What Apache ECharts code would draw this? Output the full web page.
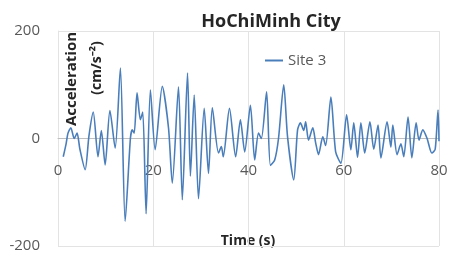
<!DOCTYPE html>
<html>
<head>
<meta charset="utf-8">
<script src="https://cdn.jsdelivr.net/npm/echarts@6/dist/echarts.min.js"></script>
<style>
  html, body { margin: 0; padding: 0; background: #fff; }
  #chart { width: 451px; height: 259px; }
</style>
</head>
<body>
<div id="chart"></div>
<script>
// values (time in s, acceleration in cm/s2)
var time = [1.1, 1.7, 2.1, 2.7, 3.4, 4.0, 4.6, 5.7, 6.5, 7.4, 8.4, 9.1, 9.9, 10.9, 12.0, 13.1, 14.1, 15.2, 15.6, 16.0,
  16.6, 17.3, 17.8, 18.5, 19.4, 20.4, 21.9, 23.2, 24.0, 25.3, 26.1, 27.2, 27.8, 28.6, 29.5, 30.7, 31.6, 32.4, 33.7, 34.3,
  34.7, 36.0, 37.3, 38.3, 39.2, 40.4, 41.3, 42.1, 42.7, 43.8, 44.6, 45.5, 46.3, 47.4, 48.2, 49.5, 50.3, 50.9, 51.6, 52.0,
  52.6, 53.5, 54.1, 54.7, 55.6, 56.2, 57.3, 58.3, 59.4, 60.6, 61.5, 62.1, 62.9, 63.6, 64.4, 65.5, 66.3, 67.2, 67.8, 69.1,
  69.9, 70.3, 71.2, 72.0, 72.6, 73.5, 74.3, 75.2, 75.8, 76.6, 77.5, 78.5, 79.2, 79.8, 80.0];
var site3 = [-34, -10, 10, 20, 0, 10, -20, -58, 5, 49, -34, 15, -49, 52, -18, 131, -154, 0, 16, 10,
  85, 35, 49, -140, 90, -21, 97, 20, -83, 96, -114, 122, -70, 81, -112, 56, -65, 57, -27, -15,
  -34, 56, -34, 35, -25, 62, -40, 10, 0, 87, -50, -40, 0, 100, 3, -77, 16, 29, 15, 31,
  -3, 20, -8, -30, 3, -13, 77, -25, -46, 44, -21, 29, -35, 29, -27, 31, -20, 25, -36, 31,
  -16, 25, -30, -10, -34, 40, -36, 29, -3, 16, 0, -27, -20, 53, -5];
var xTicks = [0, 20, 40, 60, 80];
var yTicks = [-200, 0, 200];

var font = 'Open Sans';
var chart = echarts.init(document.getElementById('chart'));

chart.setOption({
  animation: false,
  textStyle: { fontFamily: font },
  title: {
    text: 'HoChiMinh City',
    left: 266, top: 8, textAlign: 'center',
    textStyle: { fontFamily: font, fontSize: 18, fontWeight: 'bold', color: '#262626' }
  },
  legend: {
    left: 265, top: 53, padding: 0,
    icon: 'rect', itemWidth: 18, itemHeight: 2, itemGap: 3,
    textStyle: { fontFamily: font, fontSize: 15, color: '#595959' },
    data: ['Site 3']
  },
  grid: { left: 58, right: 12, top: 31, bottom: 13, outerBoundsMode: 'none', containLabel: false },
  xAxis: {
    type: 'value',
    min: xTicks[0], max: xTicks[xTicks.length - 1], interval: 20,
    axisLine: { onZero: true, lineStyle: { color: '#bfbfbf', width: 1 } },
    axisTick: { show: false },
    // labels sit under the zero line in the picture
    axisLabel: { margin: -83, fontSize: 15, color: '#595959', fontFamily: font,
      showMinLabel: true, showMaxLabel: true, hideOverlap: false },
    splitLine: { show: true, lineStyle: { color: '#e3e3e3', width: 1 } }
  },
  yAxis: {
    type: 'value',
    min: yTicks[0], max: yTicks[yTicks.length - 1], interval: 200,
    axisLine: { show: true, lineStyle: { color: '#e3e3e3' } },
    axisTick: { show: false },
    axisLabel: { margin: 18, fontSize: 15, color: '#595959', fontFamily: font },
    splitLine: { show: true, lineStyle: { color: '#e3e3e3', width: 1 } }
  },
  series: [{
    name: 'Site 3',
    type: 'line',
    symbol: 'none',
    smooth: 0.25,
    lineStyle: { color: '#4a7ebb', width: 1.6 },
    itemStyle: { color: '#4a7ebb' },
    data: time.map(function (t, i) { return [t, site3[i]]; })
  }],
  graphic: [
    {
      type: 'text', x: 72, y: 79, rotation: Math.PI / 2,
      style: { text: 'Acceleration', x: 0, y: 0, align: 'center', verticalAlign: 'middle',
        font: 'bold 15px ' + font, fill: '#262626' }
    },
    {
      type: 'text', x: 97, y: 68, rotation: Math.PI / 2,
      style: { text: '(cm/s\u207B\u00B2)', x: 0, y: 0, align: 'center', verticalAlign: 'middle',
        font: 'bold 14px ' + font, fill: '#262626' }
    },
    {
      type: 'text', x: 248, y: 241,
      style: { text: 'Time (s)', x: 0, y: 0, align: 'center', verticalAlign: 'middle',
        font: 'bold 14px ' + font, fill: '#262626' }
    }
  ]
});
</script>
</body>
</html>
